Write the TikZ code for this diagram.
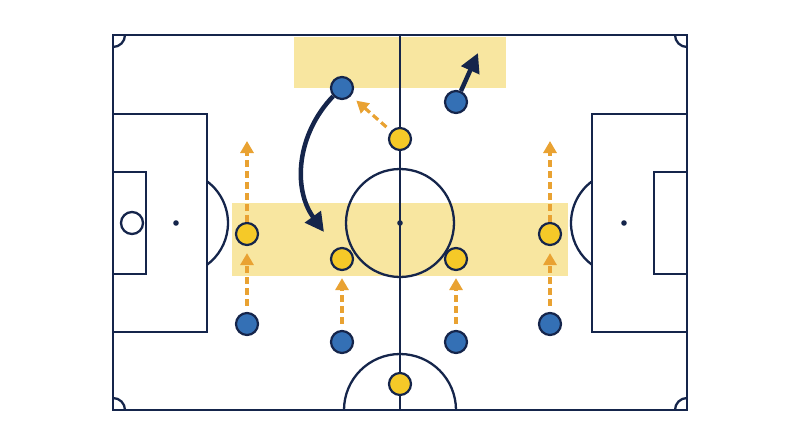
\documentclass[tikz,border=0pt]{standalone}
\usetikzlibrary{arrows.meta}

\definecolor{pitchnavy}{HTML}{15254B}
\definecolor{zoneyellow}{HTML}{F8E6A0}
\definecolor{ouryellow}{HTML}{F5C928}
\definecolor{theirblue}{HTML}{3470B5}
\definecolor{runorange}{HTML}{E9A232}

\tikzset{
  pitchline/.style={draw=pitchnavy, line width=2.3pt},
  zone/.style={fill=zoneyellow},
  ours/.style={circle, draw=pitchnavy, line width=2.2pt, fill=ouryellow,
    minimum size=22pt, inner sep=0pt},
  theirs/.style={ours, fill=theirblue},
  run/.style={draw=runorange, line width=3.2pt, dash pattern=on 7pt off 4pt,
    -{Triangle[length=12pt, width=13pt]}},
  sweep/.style={draw=pitchnavy, line width=4.5pt,
    -{Triangle[length=19pt, width=19pt]}},
}

\begin{document}
\begin{tikzpicture}[x=1pt, y=-1pt]
      \useasboundingbox (0,0) rectangle (800,447);
      \def\pr{52pt}
      \def\cr{12pt}
      %
      \fill[zone] (294,37) rectangle (506,88);    % top zone
      \fill[zone] (232,203) rectangle (568,276);  % middle band
      %
      \draw[pitchline] (113,35) rectangle (687,410);  % touchlines
      \draw[pitchline] (400,35) -- (400,410);         % halfway
      \draw[pitchline] (400,223) circle (54pt);       % centre circle
      \fill[pitchnavy] (400,223) circle (2.8pt);
      \draw[pitchline] (344,410) arc[start angle=180, end angle=0, radius=56pt];
      %% left
      \draw[pitchline] (113,114) rectangle (207,332);   % box
      \draw[pitchline] (113,172) rectangle (146,274);   % six yard
      \fill[pitchnavy] (176,223) circle (2.8pt);
      \draw[pitchline, fill=white] (132,223) circle (11pt);
      \draw[pitchline] (207,181.3) arc[start angle=53.4, end angle=-53.4, radius=\pr];
      %% right
      \draw[pitchline] (592,114) rectangle (687,332);   % box
      \draw[pitchline] (654,172) rectangle (687,274);   % six yard
      \fill[pitchnavy] (624,223) circle (2.8pt);
      \draw[pitchline] (592,181.3) arc[start angle=126.6, end angle=233.4, radius=\pr];
      %% corners
      \draw[pitchline] (125,35) arc[start angle=0, end angle=-90, radius=\cr];
      \draw[pitchline] (675,35) arc[start angle=180, end angle=270, radius=\cr];
      \draw[pitchline] (125,410) arc[start angle=0, end angle=90, radius=\cr];
      \draw[pitchline] (675,410) arc[start angle=180, end angle=90, radius=\cr];
      %
      \node[theirs] (b1) at (342,88) {};
      \node[theirs] (b2) at (456,102) {};
      \node[ours] (y1) at (400,139) {};
      \node[ours] (y2) at (247,234) {};
      \node[ours] (y3) at (342,259) {};
      \node[ours] (y4) at (456,259) {};
      \node[ours] (y5) at (550,234) {};
      \node[theirs] (b3) at (247,324) {};
      \node[theirs] (b4) at (342,342) {};
      \node[theirs] (b5) at (456,342) {};
      \node[theirs] (b6) at (550,324) {};
      \node[ours] (y6) at (400,384) {};
      %
      \coordinate (lrun) at (247,141);
      \coordinate (rrun) at (550,141);
      \coordinate (drop) at (324,232);
      \coordinate (out) at (478,53);
      %
      \draw[run, shorten <=6pt, shorten >=7pt] (b3) -- (y2);
      \draw[run, shorten <=6pt, shorten >=7pt] (b4) -- (y3);
      \draw[run, shorten <=6pt, shorten >=7pt] (b5) -- (y4);
      \draw[run, shorten <=6pt, shorten >=7pt] (b6) -- (y5);
      \draw[run] (y2) -- (lrun);
      \draw[run] (y5) -- (rrun);
      \draw[run, shorten <=6pt, shorten >=7pt] (y1) -- (b1);
      %
      \draw[sweep] (b1) to[bend right=40] (drop);
      \draw[sweep] (b2) -- (out);
    \end{tikzpicture}
\end{document}
